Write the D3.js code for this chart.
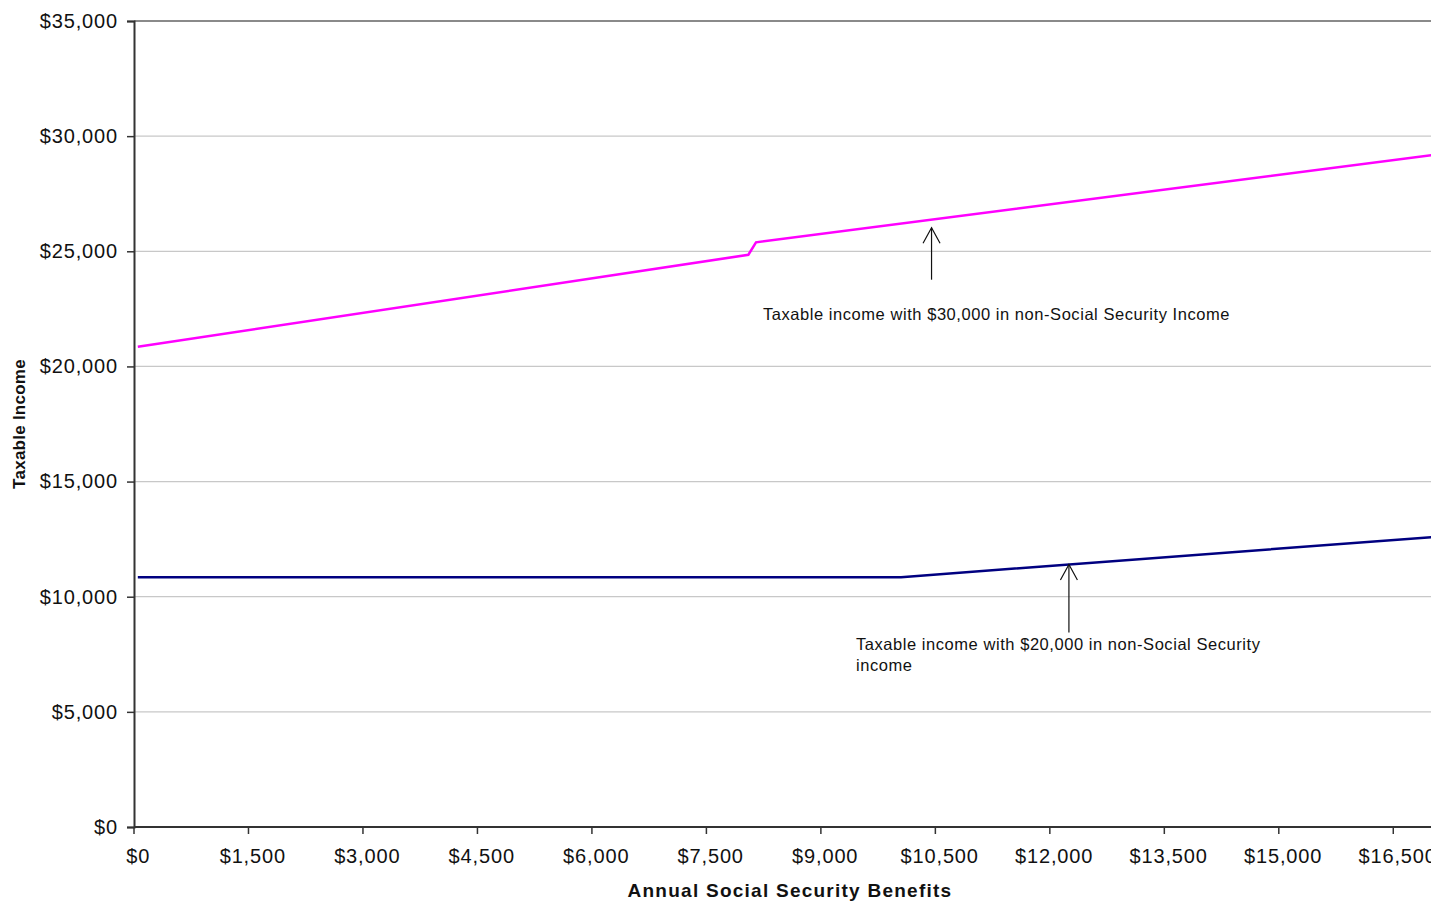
<!DOCTYPE html>
<html><head><meta charset="utf-8">
<script src="https://cdn.jsdelivr.net/npm/d3@7"></script>
<style>html,body{margin:0;padding:0;background:#fff;overflow:hidden}</style>
</head><body>
<svg id="chart" width="1431" height="901"></svg>
<script>
// ---- data ----
const categoryStep = 100;            // social security benefit categories, $100 apart
const categoryMax = 20000;
const xTickValues = [0,1500,3000,4500,6000,7500,9000,10500,12000,13500,15000,16500];
const yTickValues = [0,5000,10000,15000,20000,25000,30000,35000];
// vertices of each series (benefit -> taxable income)
const seriesHighX = [0, 8000, 8100, 17000];
const seriesHighY = [20850, 24850, 25390, 29190];
const seriesLowX  = [0, 10000, 17000];
const seriesLowY  = [10850, 10850, 12600];
const annotationTexts = [
  ["Taxable income with $30,000 in non-Social Security Income"],
  ["Taxable income with $20,000 in non-Social Security", "income"]
];
const annotationAtX = [10400, 12200];

// ---- layout ----
(function(){
const svg = d3.select("#chart");
const mLeft = 134, mTop = 21, mBottom = 827;
const catW = 7.632;
const nCat = categoryMax / categoryStep + 1;
const mRight = mLeft + nCat * catW;
const x = d3.scaleLinear().domain([-categoryStep/2, categoryMax + categoryStep/2]).range([mLeft, mRight]);
const y = d3.scaleLinear().domain([0, 35000]).range([mBottom, mTop]);
const fmt = v => "$" + d3.format(",")(v);
const font = "'Liberation Sans', Arial, sans-serif";

// gridlines
svg.append("g").selectAll("line").data(yTickValues.filter(v => v > 0 && v < 35000)).join("line")
  .attr("x1", mLeft).attr("x2", mRight).attr("y1", d => y(d)).attr("y2", d => y(d))
  .attr("stroke", "#c8c8c8").attr("stroke-width", 1.2);
// top border
svg.append("line").attr("x1", mLeft).attr("x2", mRight).attr("y1", y(35000)).attr("y2", y(35000))
  .attr("stroke", "#8a8a8a").attr("stroke-width", 2);

// y axis
const yAxis = d3.axisLeft(y).tickValues(yTickValues).tickFormat(fmt).tickSize(7).tickPadding(9);
const gy = svg.append("g").attr("transform", `translate(${mLeft},0)`).call(yAxis);
gy.select(".domain").attr("stroke", "#333").attr("stroke-width", 2);
gy.selectAll(".tick line").attr("stroke", "#333").attr("stroke-width", 1.5);
gy.selectAll(".tick text").attr("font-family", font).attr("font-size", 20).attr("fill", "#111")
  .attr("letter-spacing", 0.85);

// x axis (category style: ticks between categories, labels at category centers)
const xAxis = d3.axisBottom(x).tickValues(xTickValues).tickFormat(fmt).tickSize(0).tickPadding(22);
const gx = svg.append("g").attr("transform", `translate(0,${mBottom})`).call(xAxis);
gx.select(".domain").remove();
gx.selectAll(".tick text").attr("font-family", font).attr("font-size", 20).attr("fill", "#111")
  .attr("letter-spacing", 0.85);
svg.append("line").attr("x1", mLeft).attr("x2", mRight).attr("y1", mBottom).attr("y2", mBottom)
  .attr("stroke", "#333").attr("stroke-width", 2);
svg.append("g").selectAll("line").data(xTickValues).join("line")
  .attr("x1", d => x(d - categoryStep/2)).attr("x2", d => x(d - categoryStep/2))
  .attr("y1", mBottom).attr("y2", mBottom + 7).attr("stroke", "#333").attr("stroke-width", 1.5);

// axis titles
svg.append("text").attr("x", 790).attr("y", 897).attr("text-anchor", "middle")
  .attr("font-family", font).attr("font-weight", "bold").attr("font-size", 19).attr("fill", "#111")
  .attr("letter-spacing", 1.25)
  .text("Annual Social Security Benefits");
svg.append("text").attr("transform", "translate(25,424) rotate(-90)").attr("text-anchor", "middle")
  .attr("font-family", font).attr("font-weight", "bold").attr("font-size", 17).attr("fill", "#111")
  .attr("letter-spacing", 0.25)
  .text("Taxable Income");

// series
const line = d3.line().x(d => x(d[0])).y(d => y(d[1]));
svg.append("path").datum(d3.zip(seriesHighX, seriesHighY)).attr("d", line)
  .attr("fill", "none").attr("stroke", "#ff00ff").attr("stroke-width", 2.5);
svg.append("path").datum(d3.zip(seriesLowX, seriesLowY)).attr("d", line)
  .attr("fill", "none").attr("stroke", "#000080").attr("stroke-width", 2.5);

// annotations
function valAt(xs, ys, v){ return d3.scaleLinear().domain(xs).range(ys)(v); }
const ann = [
  {ax: annotationAtX[0], ay: valAt(seriesHighX, seriesHighY, annotationAtX[0]), dy: 8, len: 52, tx: 763, ty: 320, lines: annotationTexts[0]},
  {ax: annotationAtX[1], ay: valAt(seriesLowX, seriesLowY, annotationAtX[1]), dy: 0, len: 68, tx: 856, ty: 650, lines: annotationTexts[1]}
];
ann.forEach(a => {
  const px = x(a.ax), py = y(a.ay) + a.dy;
  const g = svg.append("g").attr("stroke", "#111").attr("stroke-width", 1.2).attr("fill", "none");
  g.append("line").attr("x1", px).attr("x2", px).attr("y1", py).attr("y2", py + a.len);
  g.append("path").attr("d", `M${px-8.5},${py+15.5}L${px},${py}L${px+8.5},${py+15.5}`);
  const t = svg.append("text").attr("font-family", font).attr("font-size", 16.5).attr("fill", "#111")
    .attr("letter-spacing", 0.55);
  a.lines.forEach((s, i) => t.append("tspan").attr("x", a.tx).attr("y", a.ty + i * 20.5).text(s));
});
})();
</script>
</body></html>
